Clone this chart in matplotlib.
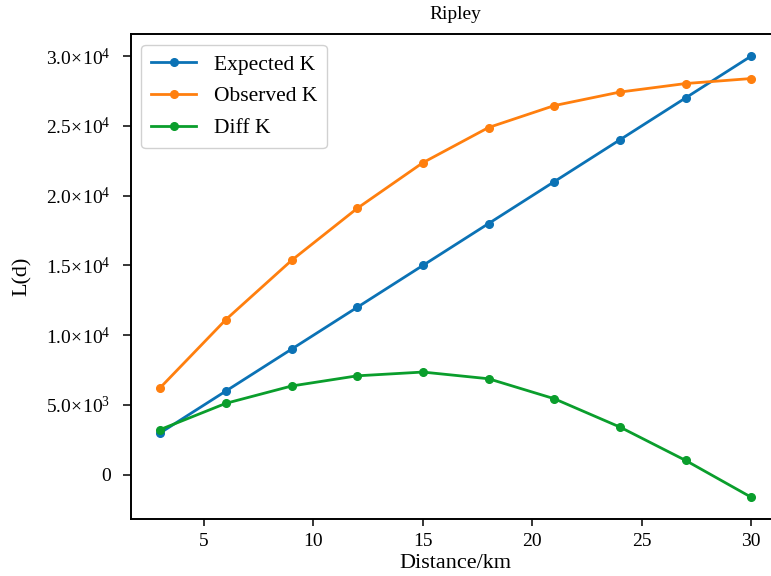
import matplotlib
matplotlib.use("Agg")
import matplotlib.pyplot as plt
from matplotlib.ticker import FuncFormatter, MultipleLocator

plt.rcParams["font.family"] = ["Liberation Serif", "DejaVu Serif"]
plt.rcParams["mathtext.fontset"] = "custom"
plt.rcParams["mathtext.rm"] = "Liberation Serif"
plt.rcParams["mathtext.it"] = "Liberation Serif:italic"
plt.rcParams["mathtext.bf"] = "Liberation Serif:bold"

distance_km = [3, 6, 9, 12, 15, 18, 21, 24, 27, 30]
expected_k = [3000, 6000, 9000, 12000, 15000, 18000, 21000, 24000, 27000, 30000]
observed_k = [6240, 11120, 15360, 19090, 22360, 24880, 26450, 27420, 28030, 28390]
diff_k = [3240, 5120, 6360, 7090, 7360, 6880, 5450, 3420, 1030, -1610]

series_names = ["Expected K", "Observed K", "Diff K"]
series_colors = ["#0b72b5", "#ff7f0e", "#0a9e2c"]

fig = plt.figure(figsize=(7.71, 5.76), dpi=100)
ax = fig.add_axes([0.1695, 0.0984, 0.8432, 0.8426])

for vals, name, col in zip([expected_k, observed_k, diff_k], series_names, series_colors):
    ax.plot(distance_km, vals, color=col, lw=2.0, marker="o", ms=5.5, label=name)


def sci_fmt(v, pos):
    if abs(v) < 1e-9:
        return "0"
    exp = 3 if abs(v) < 1e4 else 4
    mant = v / 10 ** exp
    return r"$%.1f\!\times\!10^{%d}$" % (mant, exp)


ax.yaxis.set_major_locator(MultipleLocator(5000))
ax.yaxis.set_major_formatter(FuncFormatter(sci_fmt))
ax.xaxis.set_major_locator(MultipleLocator(5))

ax.tick_params(axis="y", labelsize=14, length=5.5, width=1.1, pad=9)
ax.tick_params(axis="x", labelsize=14, length=5, width=1.1, pad=5)
for sp in ax.spines.values():
    sp.set_linewidth(1.4)

ax.set_title("Ripley", fontsize=14, pad=11)
ax.set_xlabel("Distance/km", fontsize=16, labelpad=3)
ax.set_ylabel("L(d)", fontsize=16, labelpad=10)

ax.legend(loc="upper left", fontsize=15.5, handlelength=2.1, borderpad=0.45,
          labelspacing=0.55, framealpha=0.9, edgecolor="#cccccc")

fig.savefig("out.png", dpi=100)
